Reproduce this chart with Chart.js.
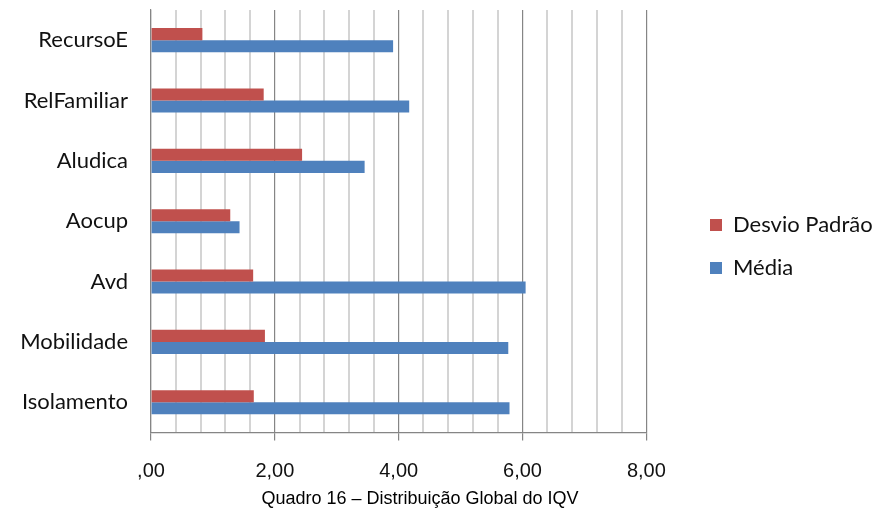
<!DOCTYPE html>
<html>
<head>
<meta charset="utf-8">
<script src="https://cdn.jsdelivr.net/npm/chart.js@4/dist/chart.umd.min.js"></script>
<style>
  html, body { margin: 0; padding: 0; background: #fff; }
  #wrap { width: 881px; height: 517px; }
</style>
</head>
<body>
<div id="wrap"><canvas id="chart" width="881" height="517"></canvas></div>
<script>
const categories = ['RecursoE', 'RelFamiliar', 'Aludica', 'Aocup', 'Avd', 'Mobilidade', 'Isolamento'];
const desvioPadrao = [0.83, 1.82, 2.44, 1.28, 1.65, 1.84, 1.66];
const media = [3.91, 4.17, 3.45, 1.43, 6.05, 5.77, 5.79];
const majorTicks = [0, 2, 4, 6, 8];
const caption = 'Quadro 16 – Distribuição Global do IQV';

const isMajor = v => majorTicks.some(m => Math.abs(m - v) < 1e-6);
const fmt = v => v === 0 ? ',00' : v.toFixed(2).replace('.', ',');

// move the legend block to where it sits in the original figure
const legendPlace = {
  id: 'legendPlace',
  afterLayout(chart) {
    const l = chart.legend;
    const dx = 689 - l.left, dy = -17;
    l.left += dx; l.right += dx; l.top += dy; l.bottom += dy;
  }
};

new Chart(document.getElementById('chart'), {
  type: 'bar',
  data: {
    labels: categories,
    datasets: [
      { label: 'Desvio Padrão', data: desvioPadrao, backgroundColor: '#C0504D', borderWidth: 0,
        categoryPercentage: 0.4, barPercentage: 1.0 },
      { label: 'Média', data: media, backgroundColor: '#4F81BD', borderWidth: 0,
        categoryPercentage: 0.4, barPercentage: 1.0 }
    ]
  },
  options: {
    indexAxis: 'y',
    responsive: false,
    animation: false,
    layout: { padding: { top: 10, right: 41, left: 0, bottom: 0 } },
    scales: {
      x: {
        min: 0, max: 8,
        ticks: {
          stepSize: 0.4, autoSkip: false, maxRotation: 0, padding: 19,
          color: '#111', font: { family: 'Liberation Sans', size: 20 },
          callback: v => isMajor(v) ? fmt(v) : ''
        },
        grid: {
          color: c => isMajor(c.tick.value) ? '#858585' : '#d4d4d4',
          lineWidth: c => isMajor(c.tick.value) ? 1.2 : 2,
          tickColor: c => isMajor(c.tick.value) ? '#858585' : 'rgba(0,0,0,0)',
          tickLength: 8
        },
        border: { color: '#858585', width: 1.2 },
        afterFit: s => { s.height = 56; }
      },
      y: {
        ticks: { padding: 23, color: '#111', font: { family: 'Lato', size: 22 } },
        grid: { display: false, drawTicks: false },
        border: { color: '#858585', width: 1.2 },
        afterFit: s => { s.width = 151; s.paddingTop = 0; s.paddingBottom = 0; }
      }
    },
    plugins: {
      legend: {
        position: 'right',
        labels: {
          boxWidth: 12, boxHeight: 12, padding: 21, color: '#111',
          font: { family: 'Lato', size: 22 }
        }
      },
      title: {
        display: true, position: 'bottom', text: caption, color: '#000',
        font: { family: 'Liberation Sans', size: 18, weight: 'normal' },
        padding: { top: 0, bottom: 7 }
      },
      tooltip: { enabled: false }
    }
  },
  plugins: [legendPlace]
});
</script>
</body>
</html>
